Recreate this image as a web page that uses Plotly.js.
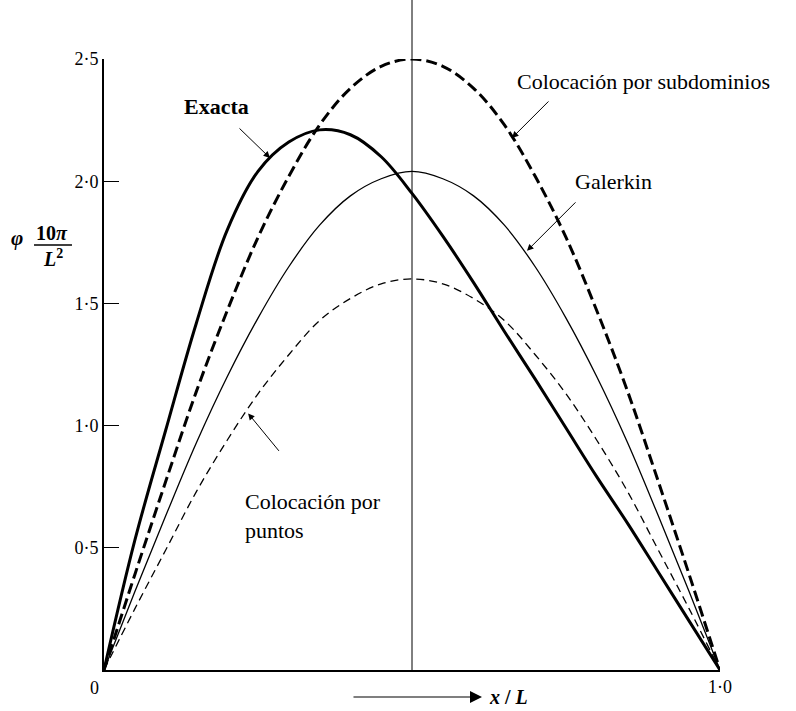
<!DOCTYPE html>
<html>
<head>
<meta charset="utf-8">
<script src="https://cdn.plot.ly/plotly-3.0.1.min.js"></script>
<style>html,body{margin:0;padding:0;background:#fff;}</style>
</head>
<body>
<div id="chart" style="width:796px;height:711px;"></div>
<script>
// x / L positions
const xL = [0, 0.05, 0.10, 0.15, 0.20, 0.25, 0.30, 0.35, 0.40, 0.45, 0.50,
            0.55, 0.60, 0.65, 0.70, 0.75, 0.80, 0.85, 0.90, 0.95, 1.00];
// phi * 10 pi / L^2
const exacta      = [0, 0.53, 0.98, 1.42, 1.80, 2.04, 2.16, 2.21, 2.19, 2.10, 1.95,
                     1.775, 1.585, 1.385, 1.19, 0.99, 0.79, 0.60, 0.40, 0.20, 0];
const subdominios = [0, 0.39, 0.77, 1.14, 1.47, 1.77, 2.02, 2.23, 2.38, 2.47, 2.50,
                     2.47, 2.38, 2.23, 2.02, 1.77, 1.47, 1.14, 0.77, 0.39, 0];
const galerkin    = [0, 0.32, 0.63, 0.93, 1.20, 1.44, 1.65, 1.82, 1.94, 2.01, 2.04,
                     2.01, 1.94, 1.82, 1.65, 1.44, 1.20, 0.93, 0.63, 0.32, 0];
const puntos      = [0, 0.25, 0.49, 0.73, 0.94, 1.13, 1.29, 1.43, 1.52, 1.58, 1.60,
                     1.58, 1.52, 1.43, 1.29, 1.13, 0.94, 0.73, 0.49, 0.25, 0];

const yTickVals = [0.5, 1.0, 1.5, 2.0, 2.5];
const yTickText = ['0·5', '1·0', '1·5', '2·0', '2·5'];
const xTickVals = [1.0];
const xTickText = ['1·0'];

const serif = 'Liberation Serif';

const traces = [
  {x: xL, y: exacta, mode: 'lines', name: 'Exacta',
   line: {color: '#000', width: 3, shape: 'spline', smoothing: 1}},
  {x: xL, y: subdominios, mode: 'lines', name: 'Colocación por subdominios',
   line: {color: '#000', width: 3, dash: '11px,5px', shape: 'spline', smoothing: 1}},
  {x: xL, y: galerkin, mode: 'lines', name: 'Galerkin',
   line: {color: '#000', width: 1.3, shape: 'spline', smoothing: 1}},
  {x: xL, y: puntos, mode: 'lines', name: 'Colocación por puntos',
   line: {color: '#000', width: 1.3, dash: '8px,5px', shape: 'spline', smoothing: 1}}
];

const arrowStyle = {showarrow: true, arrowhead: 2, arrowsize: 1.3, arrowwidth: 1, arrowcolor: '#000', text: '', axref: 'pixel', ayref: 'pixel'};
const mid = {xanchor: 'center', yanchor: 'middle', showarrow: false};

const layout = {
  width: 796, height: 711,
  margin: {l: 104, r: 76, t: 59, b: 41},
  paper_bgcolor: '#fff', plot_bgcolor: '#fff',
  showlegend: false,
  xaxis: {range: [0, 1], showgrid: false, zeroline: false, showline: true, linecolor: '#000', linewidth: 1.5,
          tickvals: xTickVals, ticktext: xTickText, ticks: 'inside', ticklen: 8, tickwidth: 1.2, tickcolor: '#000',
          tickfont: {family: serif, size: 18, color: '#000'}},
  yaxis: {range: [0, 2.5], showgrid: false, zeroline: false, showline: true, linecolor: '#000', linewidth: 2,
          tickvals: yTickVals, ticktext: yTickText, ticks: 'inside', ticklen: 15, tickwidth: 1.3, tickcolor: '#000',
          tickfont: {family: serif, size: 18, color: '#000'}},
  shapes: [
    {type: 'line', xref: 'x', yref: 'paper', x0: 0.5, x1: 0.5, y0: 0, y1: 1.0966, line: {color: '#000', width: 1}},
    {type: 'line', xref: 'paper', yref: 'paper', x0: -0.1136, x1: -0.052, y0: 0.6956, y1: 0.6956, line: {color: '#000', width: 1.5}}
  ],
  annotations: [
    Object.assign({xref: 'x', yref: 'y', x: 0.182, y: 2.304, text: '<b>Exacta</b>',
     font: {family: serif, size: 22, color: '#000'}}, mid),
    Object.assign({xref: 'x', yref: 'y', x: 0.2695, y: 2.095, ax: -32, ay: -31}, arrowStyle),

    Object.assign({xref: 'x', yref: 'y', x: 0.667, y: 2.406, text: 'Colocación por subdominios',
     font: {family: serif, size: 22, color: '#000'}}, mid, {xanchor: 'left'}),
    Object.assign({xref: 'x', yref: 'y', x: 0.6623, y: 2.177, ax: 38, ay: -38}, arrowStyle),

    Object.assign({xref: 'x', yref: 'y', x: 0.761, y: 1.997, text: 'Galerkin',
     font: {family: serif, size: 22, color: '#000'}}, mid, {xanchor: 'left'}),
    Object.assign({xref: 'x', yref: 'y', x: 0.6867, y: 1.715, ax: 50, ay: -50}, arrowStyle),

    Object.assign({xref: 'x', yref: 'y', x: 0.2256, y: 0.632, text: 'Colocación por<br>puntos', align: 'left',
     font: {family: serif, size: 22, color: '#000'}}, mid, {xanchor: 'left'}),
    Object.assign({xref: 'x', yref: 'y', x: 0.234, y: 1.05, ax: 32, ay: 39}, arrowStyle),

    // axis labels
    Object.assign({xref: 'paper', yref: 'paper', x: -0.0162, y: -0.0295, text: '0',
     font: {family: serif, size: 18, color: '#000'}}, mid),
    Object.assign({xref: 'paper', yref: 'paper', x: 0.656, y: -0.0442, text: '<b><i>x</i> / <i>L</i></b>',
     font: {family: serif, size: 20, color: '#000'}}, mid),
    Object.assign({xref: 'paper', yref: 'paper', x: 0.6136, y: -0.0442, ax: -130, ay: 0}, arrowStyle, {arrowsize: 2, arrowwidth: 1.2}),

    Object.assign({xref: 'paper', yref: 'paper', x: -0.1412, y: 0.707, text: '<b><i>φ</i></b>',
     font: {family: serif, size: 21, color: '#000'}}, mid),
    Object.assign({xref: 'paper', yref: 'paper', x: -0.0844, y: 0.7152, text: '<b>10<i>π</i></b>',
     font: {family: serif, size: 20, color: '#000'}}, mid),
    Object.assign({xref: 'paper', yref: 'paper', x: -0.0828, y: 0.6743, text: '<b><i>L</i><sup>2</sup></b>',
     font: {family: serif, size: 20, color: '#000'}}, mid)
  ]
};

Plotly.newPlot('chart', traces, layout, {staticPlot: true, displayModeBar: false});
</script>
</body>
</html>
